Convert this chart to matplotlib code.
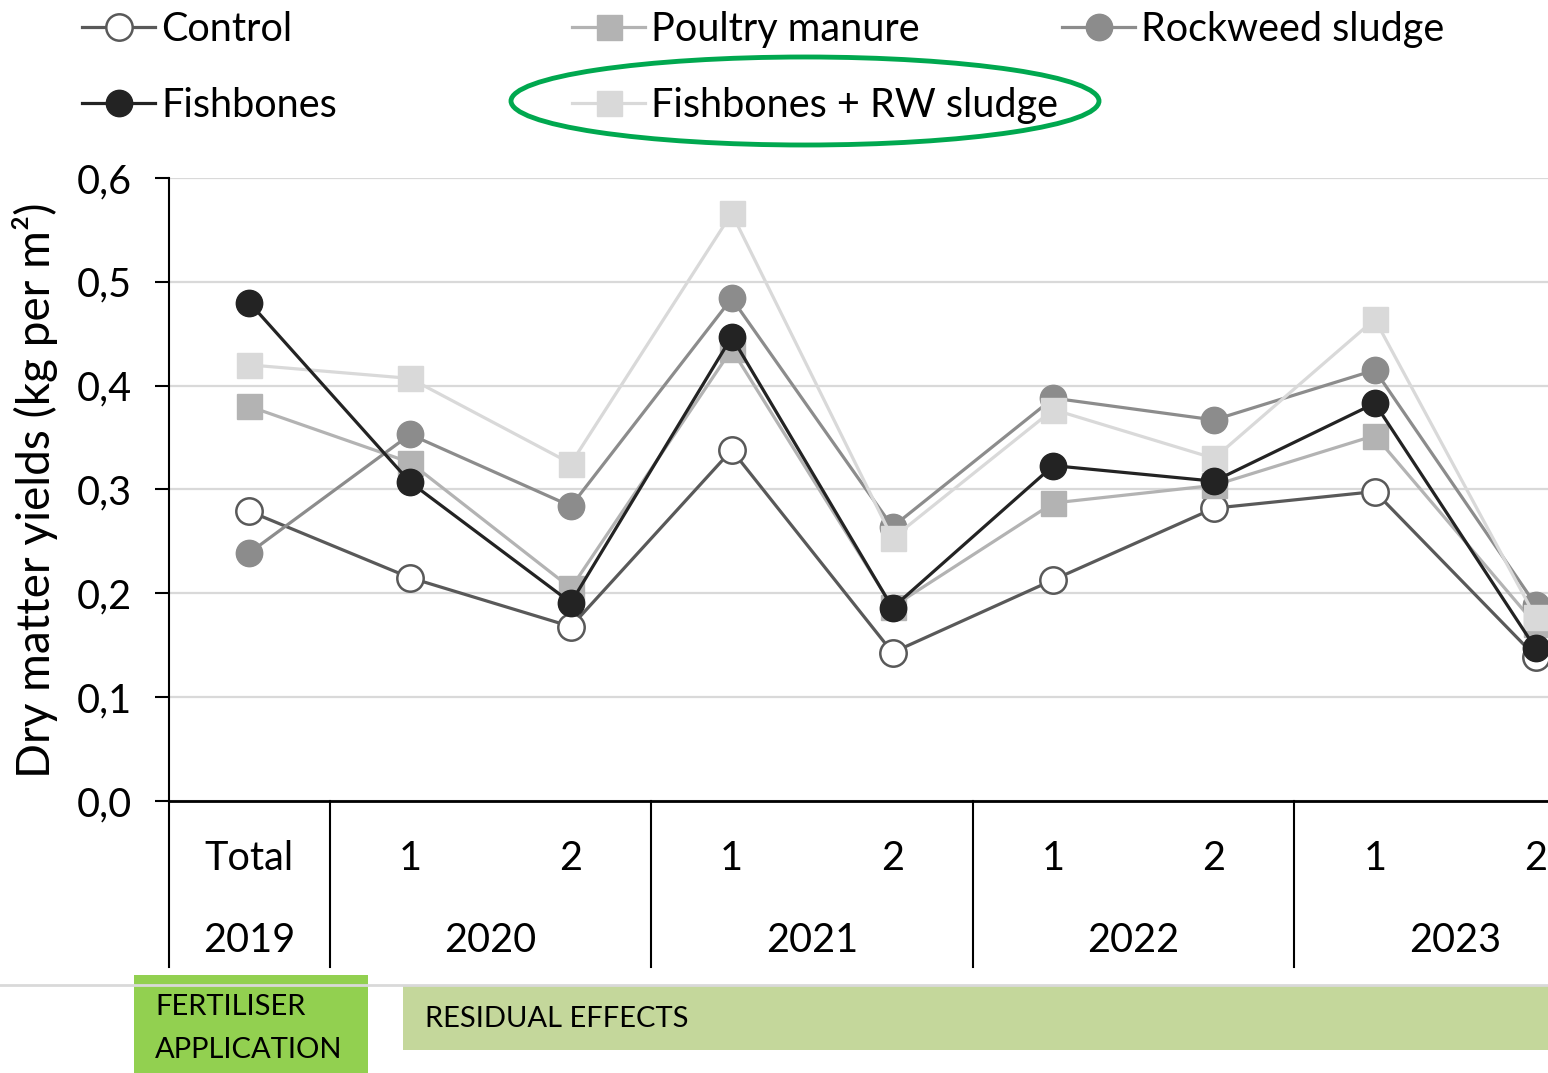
import numpy as np
import matplotlib
matplotlib.use('Agg')
import matplotlib.pyplot as plt
from matplotlib.patches import Rectangle, Ellipse

plt.rcParams['font.family'] = ['Lato', 'DejaVu Sans']

# data
periods = ['Total', '1', '2', '1', '2', '1', '2', '1', '2']
years = ['2019', '2020', '2021', '2022', '2023']
year_pos = [0, 1.5, 3.5, 5.5, 7.5]
separators = [-0.5, 0.5, 2.5, 4.5, 6.5, 8.5]

control = [0.279, 0.215, 0.168, 0.338, 0.143, 0.213, 0.282, 0.298, 0.139]
poultry = [0.380, 0.326, 0.205, 0.435, 0.187, 0.287, 0.304, 0.352, 0.170]
rockweed = [0.239, 0.353, 0.284, 0.484, 0.264, 0.388, 0.367, 0.415, 0.189]
fishbones = [0.480, 0.307, 0.191, 0.447, 0.186, 0.323, 0.308, 0.383, 0.147]
fb_rw = [0.420, 0.407, 0.325, 0.566, 0.253, 0.377, 0.330, 0.464, 0.177]

yticks = [0.0, 0.1, 0.2, 0.3, 0.4, 0.5, 0.6]
ytick_labels = ['0,0', '0,1', '0,2', '0,3', '0,4', '0,5', '0,6']

W, H = 1548, 1073
fs = 28.5
fig = plt.figure(figsize=(W / 100, H / 100), dpi=100)
ax = fig.add_axes([169 / W, 1 - 801 / H, 1447 / W, 623 / H])

x = np.arange(len(periods))
ms = 19
lw = 2.3
h_ctrl, = ax.plot(x, control, '-o', color='#595959', lw=lw, ms=ms,
                  mfc='white', mec='#595959', mew=1.8, zorder=3, label='Control')
h_poul, = ax.plot(x, poultry, '-s', color='#b3b3b3', lw=lw, ms=ms - 1,
                  mfc='#b3b3b3', mec='#b3b3b3', zorder=4, label='Poultry manure')
h_rock, = ax.plot(x, rockweed, '-o', color='#8c8c8c', lw=lw, ms=ms,
                  mfc='#8c8c8c', mec='#8c8c8c', zorder=5, label='Rockweed sludge')
h_fbrw, = ax.plot(x, fb_rw, '-s', color='#d9d9d9', lw=lw, ms=ms - 1,
                  mfc='#d9d9d9', mec='#d9d9d9', zorder=6, label='Fishbones + RW sludge')
h_fish, = ax.plot(x, fishbones, '-o', color='#232323', lw=lw, ms=ms,
                  mfc='#232323', mec='#232323', zorder=7, label='Fishbones')

ax.set_xlim(-0.5, 8.5)
ax.set_ylim(0, 0.6)
ax.set_yticks(yticks)
ax.set_yticklabels(ytick_labels, fontsize=fs)
ax.tick_params(axis='y', direction='out', length=10, width=1.5, pad=17)
ax.yaxis.grid(True, color='#d9d9d9', lw=1.6)
ax.set_axisbelow(True)
ax.set_xticks(x)
ax.set_xticklabels(periods, fontsize=fs)
ax.tick_params(axis='x', length=0, pad=28)
for s in ['top', 'right']:
    ax.spines[s].set_visible(False)
ax.spines['left'].set_linewidth(1.5)
ax.spines['bottom'].set_linewidth(2)

trans = ax.get_xaxis_transform()
for sx in separators:
    ax.plot([sx, sx], [0, -166 / 623], color='black', lw=1.5,
            transform=trans, clip_on=False)
for yp, yl in zip(year_pos, years):
    ax.text(yp, -139 / 623, yl, transform=trans, ha='center', va='center', fontsize=fs)

fig.text(35 / W, 1 - 490 / H, 'Dry matter yields (kg per m²)', rotation=90,
         ha='center', va='center', fontsize=33)

# legend in three columns
cols = [([h_ctrl, h_fish], 82), ([h_poul, h_fbrw], 572), ([h_rock], 1062)]
for hs, lx in cols:
    leg = fig.legend(handles=hs, loc='upper left', bbox_to_anchor=(lx / W, 1 - 11 / H),
                     frameon=False, fontsize=fs, handlelength=1.85, handletextpad=0.15,
                     labelspacing=0.98, borderaxespad=0, borderpad=0, markerscale=1.0)

fig.patches.append(Ellipse((805 / W, 1 - 101 / H), 588 / W, 88 / H,
                           transform=fig.transFigure, fill=False,
                           edgecolor='#00a84f', lw=3.5))

# bottom boxes
fig.lines.append(plt.Line2D([0, 1], [1 - 985 / H, 1 - 985 / H], transform=fig.transFigure,
                            color='#d9d9d9', lw=2))
fig.patches.append(Rectangle((134 / W, 0), 234 / W, 98 / H, transform=fig.transFigure,
                             facecolor='#92d050', edgecolor='none'))
fig.patches.append(Rectangle((403 / W, 1 - 1050 / H), 1145 / W, 65 / H,
                             transform=fig.transFigure, facecolor='#c4d79b', edgecolor='none'))
fig.text(155 / W, 1 - 1007 / H, 'FERTILISER', ha='left', va='center', fontsize=21)
fig.text(155 / W, 1 - 1050 / H, 'APPLICATION', ha='left', va='center', fontsize=21)
fig.text(425 / W, 1 - 1019 / H, 'RESIDUAL EFFECTS', ha='left', va='center', fontsize=21)

fig.savefig('out.png', dpi=100)
